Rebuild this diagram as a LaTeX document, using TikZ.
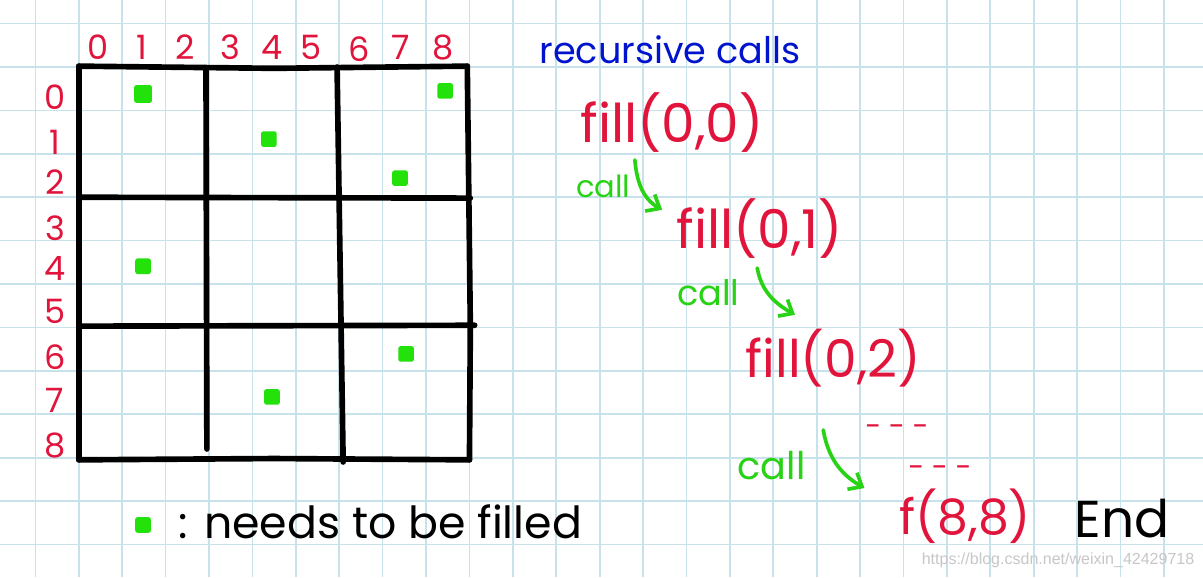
\documentclass[tikz,border=0pt]{standalone}
\usepackage{fontspec}
\setmainfont{Poppins}
\newfontfamily\urlfont{Liberation Sans}
\usepackage{xcolor}
\usepackage{tikz}
\usetikzlibrary{arrows.meta,positioning}
\definecolor{penred}{RGB}{225,20,60}
\definecolor{pengreen}{RGB}{40,210,20}
\definecolor{markgreen}{RGB}{35,225,10}
\definecolor{penblue}{RGB}{0,20,205}
\definecolor{gridblue}{RGB}{200,226,236}
\begin{document}
\begin{tikzpicture}[
gridline/.style={draw=gridblue, line width=1.1pt},
boxline/.style={draw=black, line width=3.7pt, line cap=round, line join=round},
cellmark/.style={fill=markgreen, rounded corners=1.5pt, minimum size=0.36cm, inner sep=0pt},
idx/.style={text=penred, inner sep=0pt, font=\fontsize{22}{24}\selectfont},
callnote/.style={text=pengreen, inner sep=1pt},
fillcall/.style={text=penred, inner sep=1pt, font=\fontsize{35}{40}\selectfont},
dots/.style={text=penred, inner sep=1pt, font=\fontsize{19}{21}\selectfont},
callarr/.style={draw=pengreen, line width=2.4pt, line cap=round, -{Straight Barb[length=2.6mm, width=4.4mm]}}
]

% Paper background
\fill[white] (-1.816,1.544) rectangle (25.90,-11.75);
\useasboundingbox (-1.816,1.544) rectangle (25.90,-11.75);
\draw[gridline, step=1] (-1.816,1.544) grid (25.90,-11.75);

% Board outline and 3x3 blocks
\draw[boxline] (0,0.02) -- (0,-9.05);
\draw[boxline] (0,0.02) -- (4.5,-0.03) -- (8.95,0.02);
\draw[boxline] (8.95,0.02) -- (9.02,-5.97) -- (9.0,-9.05);
\draw[boxline] (0,-9.05) -- (4.5,-9.02) -- (9.0,-9.05);
\draw[boxline] (0,-3.0) -- (9.02,-3.02);
\draw[boxline] (0,-5.97) -- (9.12,-5.95);
\draw[boxline] (2.93,-0.05) -- (2.95,-8.8);
\draw[boxline] (5.95,0) -- (6.09,-9.1);

% Column indices
\node[idx] (col0) at (0.45,0.46) {0};
\node[idx] (col1) at (1.45,0.46) {1};
\node[idx] (col2) at (2.45,0.46) {2};
\node[idx] (col3) at (3.5,0.46) {3};
\node[idx] (col4) at (4.45,0.46) {4};
\node[idx] (col5) at (5.35,0.46) {5};
\node[idx] (col6) at (6.45,0.42) {6};
\node[idx] (col7) at (7.42,0.46) {7};
\node[idx] (col8) at (8.4,0.46) {8};

% Row indices
\node[idx] (row0) at (-0.55,-0.7) {0};
\node[idx] (row1) at (-0.55,-1.73) {1};
\node[idx] (row2) at (-0.55,-2.66) {2};
\node[idx] (row3) at (-0.55,-3.71) {3};
\node[idx] (row4) at (-0.55,-4.65) {4};
\node[idx] (row5) at (-0.55,-5.64) {5};
\node[idx] (row6) at (-0.55,-6.68) {6};
\node[idx] (row7) at (-0.55,-7.67) {7};
\node[idx] (row8) at (-0.55,-8.71) {8};

% Cells that need to be filled
\node[cellmark, minimum size=0.41cm] (m01) at (1.48,-0.62) {};
\node[cellmark] (m08) at (8.44,-0.55) {};
\node[cellmark] (m14) at (4.38,-1.66) {};
\node[cellmark] (m27) at (7.40,-2.56) {};
\node[cellmark] (m41) at (1.48,-4.59) {};
\node[cellmark] (m67) at (7.54,-6.61) {};
\node[cellmark] (m74) at (4.45,-7.60) {};

% Legend
\node[cellmark] (key) at (1.48,-10.55) {};
\node[anchor=west, inner sep=0pt, font=\fontsize{29}{33}\selectfont] (keytxt) at (2.3,-10.48) {: needs to be filled};

% Recursive calls
\node[text=penblue, font=\fontsize{24}{27}\selectfont] (title) at (13.62,0.39) {recursive calls};
\node[fillcall] (f00) at (13.67,-1.29) {fill(0,0)};
\node[callnote, font=\fontsize{20}{22}\selectfont] (c1) at (12.08,-2.76) {call};
\node[fillcall] (f01) at (15.69,-3.71) {fill(0,1)};
\node[callnote, font=\fontsize{23}{26}\selectfont] (c2) at (14.50,-5.21) {call};
\node[fillcall, font=\fontsize{34}{38}\selectfont] (f02) at (17.38,-6.70) {fill(0,2)};
\node[dots] (d1) at (18.85,-8.38) {- - -};
\node[dots] (d2) at (19.84,-9.33) {- - -};
\node[callnote, font=\fontsize{25}{28}\selectfont] (c3) at (15.96,-9.19) {call};
\node[fillcall, font=\fontsize{32}{36}\selectfont, inner sep=0pt] (f88) at (20.42,-10.34) {f(8,8)};
\node[font=\fontsize{34}{38}\selectfont, inner sep=0pt, text depth=0pt] (end) at (24.04,-10.40) {End};

\draw[callarr] ([shift={(0.73,0.62)}]c1.center) to[out=-85, in=150] ([shift={(-2.25,0.42)}]f01.center);
\draw[callarr] ([shift={(1.13,0.58)}]c2.center) to[out=-80, in=150] ([shift={(-0.88,0.99)}]f02.center);
\draw[callarr] ([shift={(1.19,0.83)}]c3.center) to[out=-80, in=150] ([shift={(-2.32,0.64)}]f88.center);

% Watermark
\node[text=black!22, font=\urlfont\fontsize{10.5}{12}\selectfont, inner sep=0pt] (wm) at (22.56,-11.36) {https://blog.csdn.net/weixin\_42429718};

\end{tikzpicture}
\end{document}
